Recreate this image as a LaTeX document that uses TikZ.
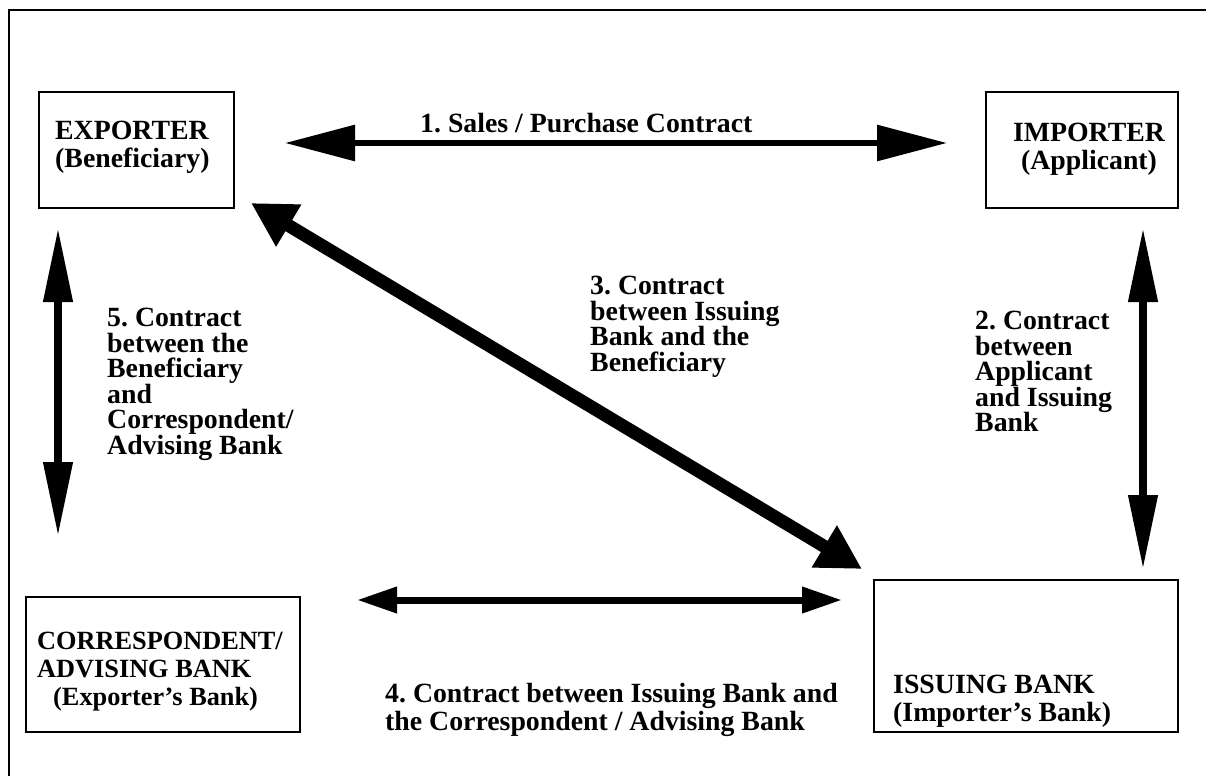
\documentclass[tikz,border=0pt]{standalone}
\usepackage{fontspec}
\setmainfont{Liberation Serif}
\usetikzlibrary{arrows.meta,calc}
\tikzstyle{blk}=[draw, line width=1.2pt, inner sep=0pt]
\tikzstyle{txt}=[anchor=north west, inner sep=0pt, align=left,%
font=\fontsize{27.8}{25.5}\selectfont\bfseries\frenchspacing]
\tikzstyle{boxtxt}=[txt, font=\fontsize{27.8}{27.8}\selectfont\bfseries\frenchspacing]
\tikzstyle{dblarr}=[line width=6pt,%
{Triangle[length=70pt,width=35pt]}-{Triangle[length=70pt,width=35pt]}]
\tikzstyle{vertarr}=[line width=7.5pt,%
{Triangle[length=74pt,width=28pt]}-{Triangle[length=74pt,width=28pt]}]
\tikzstyle{diagarr}=[line width=13pt,%
{Triangle[length=44pt,width=46pt]}-{Triangle[length=44pt,width=46pt]}]
\tikzstyle{lowarr}=[line width=7pt,%
{Triangle[length=40pt,width=25pt]}-{Triangle[length=40pt,width=25pt]}]

\begin{document}
\begin{tikzpicture}[x=1pt,y=-1pt]
\useasboundingbox (0,0) rectangle (1206,776);
\draw[line width=2pt] (9,776) -- (9,10) -- (1206,10);

\node[blk,minimum width=195,minimum height=116] (exp) at (136.5,150) {};
\node[blk,minimum width=192,minimum height=116] (imp) at (1082,150) {};
\node[blk,minimum width=274,minimum height=135] (cor) at (163,664.5) {};
\node[blk,minimum width=304,minimum height=152] (iss) at (1026,656) {};

\node[boxtxt] (exptxt) at (55,121) {EXPORTER\\(Beneficiary)};
\node[boxtxt,anchor=north,align=center] (imptxt) at (1089,123) {IMPORTER\\(Applicant)};
\node[boxtxt,font=\fontsize{26.3}{27.8}\selectfont\bfseries] (cortxt) at (37,632) {CORRESPONDENT/\\ADVISING BANK\\\hspace*{16pt}(Exporter’s Bank)};
\node[boxtxt] (isstxt) at (893,675) {ISSUING BANK\\(Importer’s Bank)};

\node[txt] (lab1) at (420,113) {1. Sales / Purchase Contract};
\node[txt] (lab2) at (975,311) {2. Contract\\between\\Applicant\\and Issuing\\Bank};
\node[txt] (lab3) at (590,276) {3. Contract\\between Issuing\\Bank and the\\Beneficiary};
\node[boxtxt] (lab4) at (385,683) {4. Contract between Issuing Bank and\\the Correspondent / Advising Bank};
\node[txt] (lab5) at (107,308) {5. Contract\\between the\\Beneficiary\\and\\Correspondent/\\Advising Bank};

\coordinate (s1) at (285,143);
\coordinate (s2) at (947,143);
\coordinate (i1) at (1143,228);
\coordinate (i2) at (1143,569);
\coordinate (b1) at (251,203);
\coordinate (b2) at (862,569);
\coordinate (c1) at (357,600);
\coordinate (c2) at (842,600);
\coordinate (e1) at (58,228);
\coordinate (e2) at (58,536);

\draw[dblarr] (s1) -- (s2);
\draw[vertarr] (i1) -- (i2);
\draw[diagarr] (b1) -- (b2);
\draw[lowarr] (c1) -- (c2);
\draw[vertarr] (e1) -- (e2);

\end{tikzpicture}
\end{document}
